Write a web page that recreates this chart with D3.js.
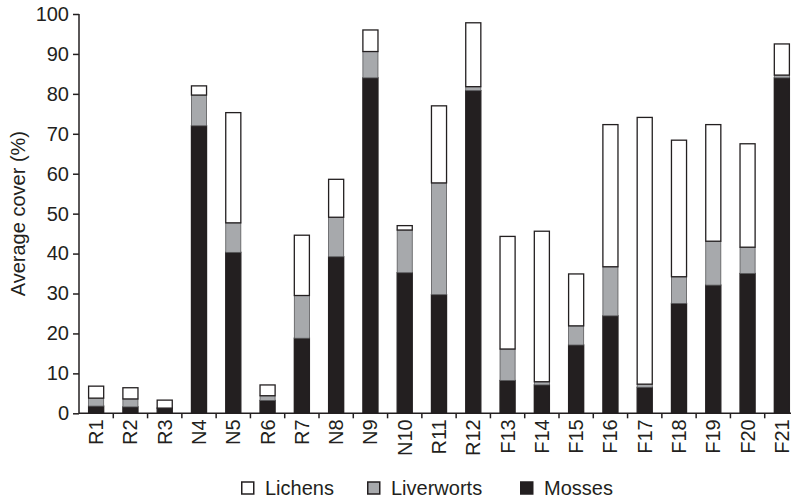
<!DOCTYPE html>
<html><head><meta charset="utf-8">
<script src="https://cdn.jsdelivr.net/npm/d3@7"></script>
<style>body{margin:0;background:#fff}svg{display:block}text{font-family:"Liberation Sans",Arial,sans-serif;fill:#231f20}</style>
</head><body><svg id="c" width="791" height="500"></svg>
<script>
const categories = ["R1","R2","R3","N4","N5","R6","R7","N8","N9","N10","R11","R12","F13","F14","F15","F16","F17","F18","F19","F20","F21"];
const mosses     = [1.8,1.6,1.3,72,40.3,3.2,18.8,39.2,84,35.2,29.7,80.8,8.2,7.1,17.1,24.4,6.5,27.5,32.1,35,84];
const liverworts = [2.0,2.0,0,7.7,7.4,1.2,10.7,9.9,6.6,10.7,28,1.0,7.9,0.8,4.8,12.3,0.8,6.7,11,6.6,0.7];
const lichens    = [3.0,2.8,2.0,2.3,27.6,2.7,15.1,9.5,5.4,1.1,19.3,16,28.2,37.7,13,35.6,66.8,34.2,29.2,25.9,7.8];
const seriesNames = ["Mosses","Liverworts","Lichens"];
const legendOrder = ["Lichens","Liverworts","Mosses"];
const yTicks = [0,10,20,30,40,50,60,70,80,90,100];
const colors = {Mosses:"#231f20", Liverworts:"#a7a9ac", Lichens:"#ffffff"};

const FS = 20;
const svg = d3.select("#c");
const x0 = 79, x1 = 799, yTop = 14, yBot = 413.3;
const x = d3.scaleBand().domain(categories).range([x0, x1]).paddingInner(0.56).paddingOuter(0.28);
const y = d3.scaleLinear().domain([0,100]).range([yBot, yTop]);

const table = categories.map((c,i)=>({cat:c, Mosses:mosses[i], Liverworts:liverworts[i], Lichens:lichens[i]}));
const stacked = d3.stack().keys(seriesNames)(table);

const g = svg.append("g");
stacked.forEach(s=>{
  g.selectAll(null).data(s).join("rect")
    .attr("x", d=>x(d.data.cat))
    .attr("width", x.bandwidth())
    .attr("y", d=>y(d[1]))
    .attr("height", d=>Math.max(0, y(d[0])-y(d[1])))
    .attr("fill", colors[s.key])
    .attr("stroke", s.key==="Liverworts" ? "#58585a" : "#231f20")
    .attr("stroke-width", s.key==="Liverworts" ? 0.8 : 1.3);
});

// y axis
const ya = svg.append("g").attr("transform",`translate(${x0},0)`)
  .call(d3.axisLeft(y).tickValues(yTicks).tickSize(6).tickPadding(4));
ya.select(".domain").attr("stroke","#231f20").attr("stroke-width",1.5).attr("d",`M0,${yTop}V${yBot}`);
ya.selectAll(".tick line").attr("stroke","#231f20").attr("stroke-width",1.5);
ya.selectAll(".tick text").attr("font-size",FS).attr("font-family","Liberation Sans, Arial, sans-serif").attr("fill","#231f20");

// x axis
const step = x.step();
const xa = svg.append("g").attr("transform",`translate(0,${yBot})`)
  .call(d3.axisBottom(x).tickSize(0).tickPadding(0));
xa.select(".domain").attr("stroke","#231f20").attr("stroke-width",1.5).attr("d",`M${x0},0H${x1}`);
xa.selectAll(".tick text")
  .attr("font-size",FS).attr("font-family","Liberation Sans, Arial, sans-serif").attr("fill","#231f20")
  .attr("transform","rotate(-90)").attr("text-anchor","end").attr("dy","0.35em").attr("x",-6).attr("y",0);
// separator ticks between categories
xa.selectAll(null).data(categories.slice(1)).join("line")
  .attr("x1", d=>x(d)-x.paddingInner()*step/2).attr("x2", d=>x(d)-x.paddingInner()*step/2)
  .attr("y1",0).attr("y2",5).attr("stroke","#231f20").attr("stroke-width",1.5);

// y label
svg.append("text").attr("transform",`translate(25,${(yTop+yBot)/2}) rotate(-90)`)
  .attr("text-anchor","middle").attr("font-size",FS).text("Average cover (%)");

// legend
const legX = {Lichens:241, Liverworts:367, Mosses:520};
legendOrder.forEach(k=>{
  svg.append("rect").attr("x",legX[k]+0.75).attr("y",482).attr("width",12).attr("height",12)
    .attr("fill",colors[k]).attr("stroke","#231f20").attr("stroke-width",1.5);
  svg.append("text").attr("x",legX[k]+24).attr("y",495).attr("font-size",FS).text(k);
});
</script></body></html>
